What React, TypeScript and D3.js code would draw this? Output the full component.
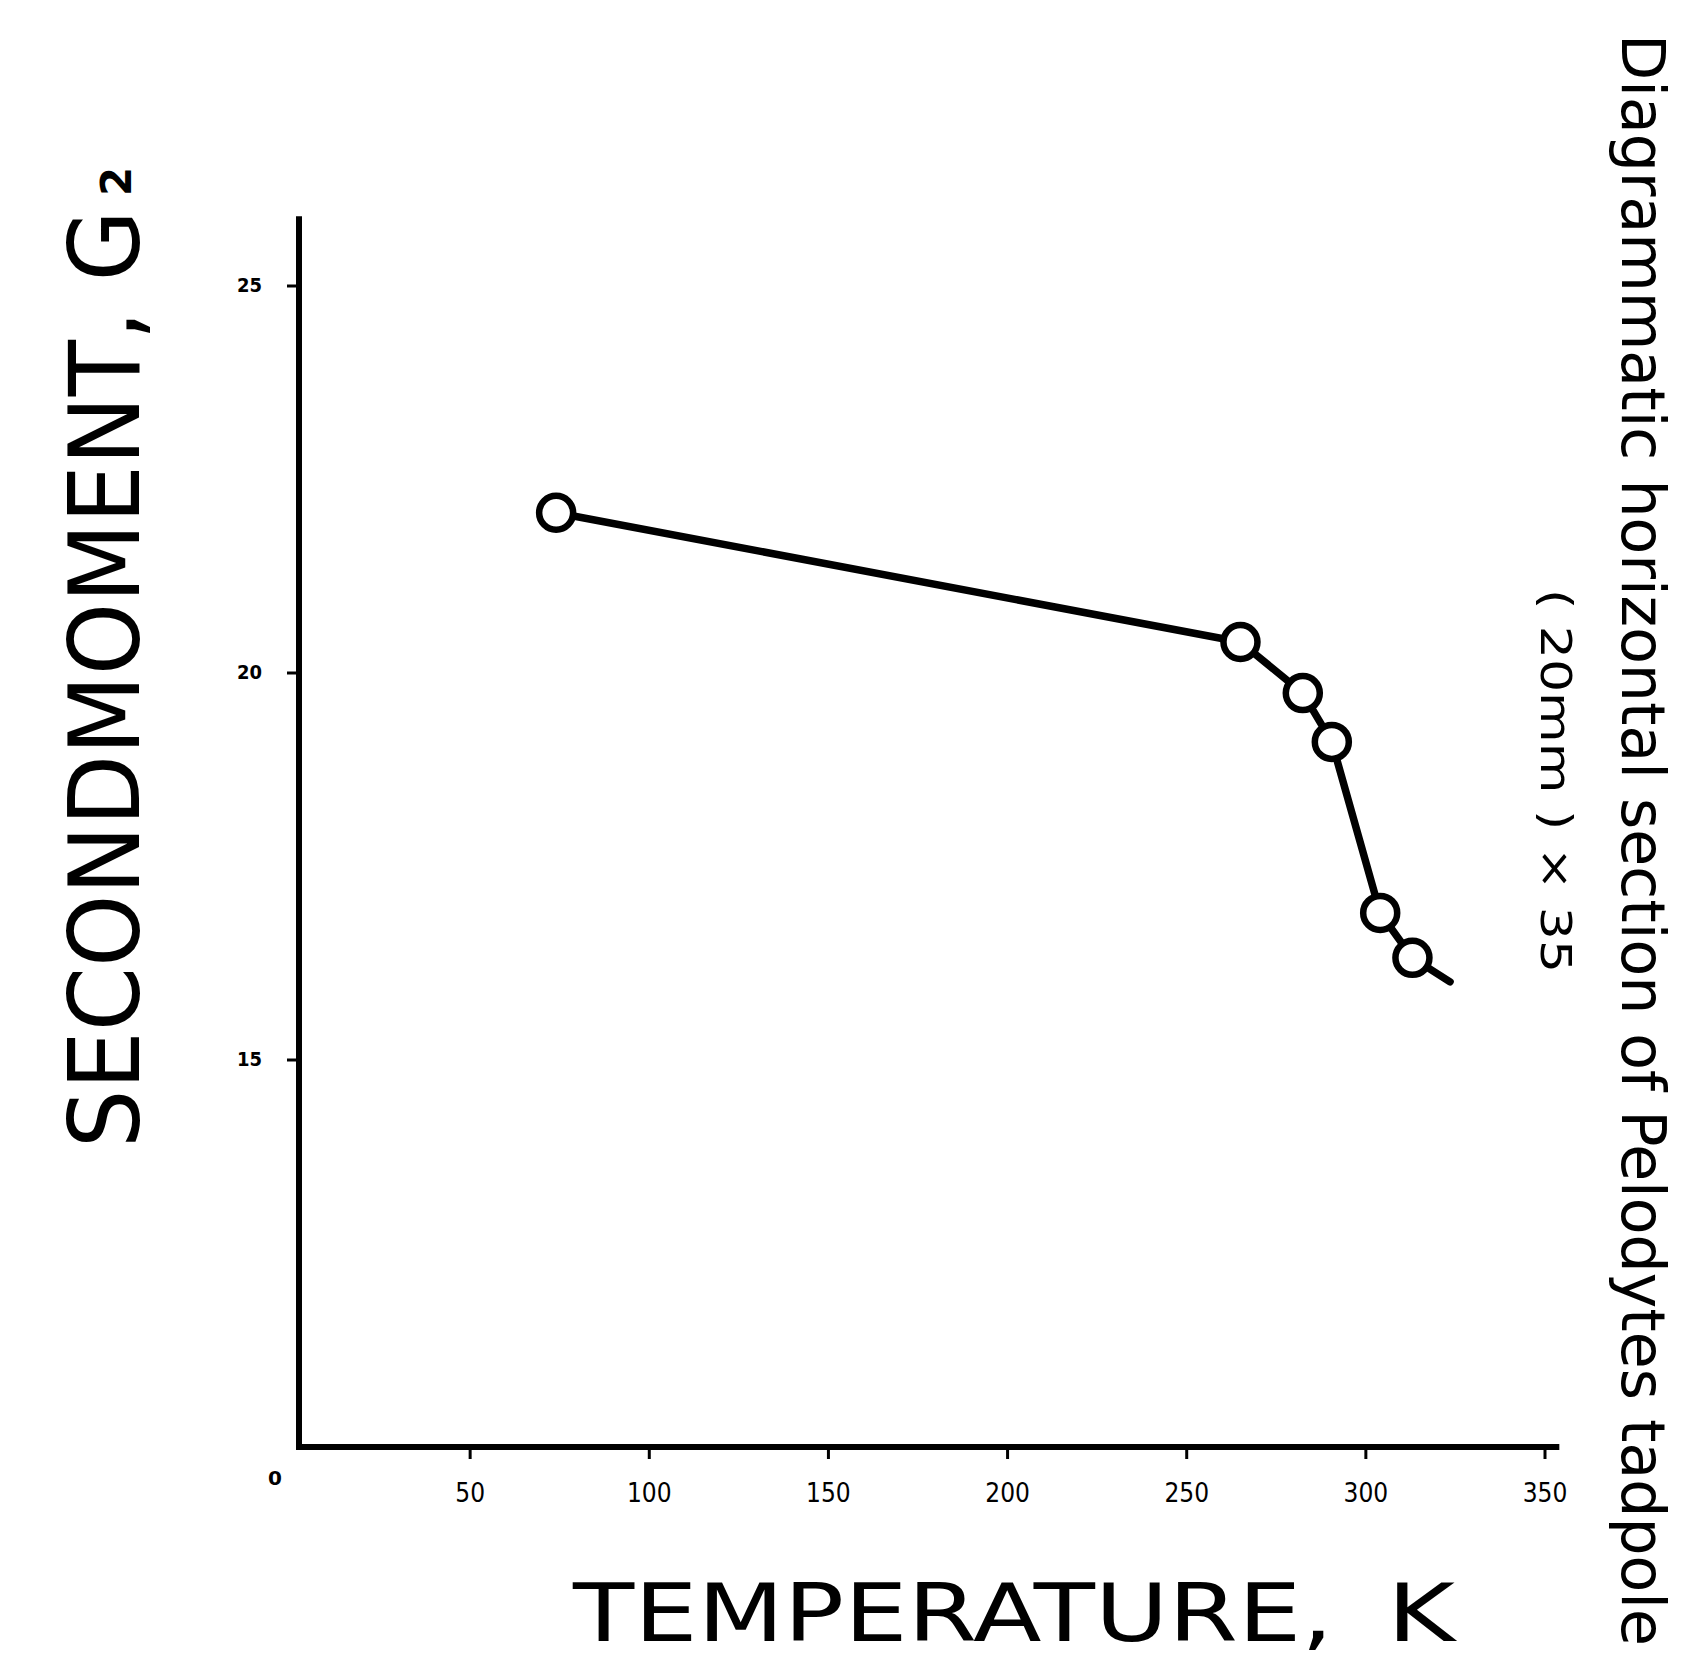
import React from 'react';
import * as d3 from 'd3';

// temperature (K) and second moment (G^2)
const temps = [74, 265, 282.4, 290.5, 304, 313];
const moments = [22.07, 20.4, 19.74, 19.11, 16.9, 16.32];
// the drawn curve runs on a little past the last circle
const lineEnd = { t: 323.5, m: 16.01 };

const xTicks = [50, 100, 150, 200, 250, 300, 350];
const yTicks = [15, 20, 25];
const originLabel = '0';

const W = 1686;
const H = 1662;

export default function App() {
  // y axis has a suppressed zero: the origin sits where 10 would be
  const x = d3.scaleLinear().domain([0, 350]).range([291, 1545]);
  const y = d3.scaleLinear().domain([10, 25]).range([1447, 286]);

  const axisX0 = 299;
  const axisY0 = y(10);
  const yTop = y(25.9);
  const xRight = x(354);

  const pts: [number, number][] = temps.map((t, i) => [x(t), y(moments[i])]);
  const curve = d3.line()([...pts, [x(lineEnd.t), y(lineEnd.m)]]) || '';

  return (
    <svg
      width={W}
      height={H}
      style={{ position: 'absolute', left: 0, top: 0, background: '#fff' }}
      fontFamily="'DejaVu Sans', sans-serif"
    >
      <rect width={W} height={H} fill="#fff" />

      {/* axes */}
      <line x1={axisX0} y1={yTop} x2={axisX0} y2={axisY0 + 3} stroke="#000" strokeWidth={6} />
      <line x1={axisX0 - 3} y1={axisY0} x2={xRight} y2={axisY0} stroke="#000" strokeWidth={6} />

      {yTicks.map((v) => (
        <g key={'y' + v}>
          <line x1={axisX0 - 12} x2={axisX0} y1={y(v)} y2={y(v)} stroke="#000" strokeWidth={3} />
          <text
            x={262}
            y={y(v)}
            textAnchor="end"
            dominantBaseline="middle"
            fontSize={20}
            fontWeight="bold"
            fontFamily="'DejaVu Sans Condensed', 'DejaVu Sans'"
          >
            {v}
          </text>
        </g>
      ))}
      <text x={275} y={1479} textAnchor="middle" dominantBaseline="middle" fontSize={20} fontWeight="bold">
        {originLabel}
      </text>

      {xTicks.map((v) => (
        <g key={'x' + v}>
          <line x1={x(v)} x2={x(v)} y1={axisY0} y2={axisY0 + 12} stroke="#000" strokeWidth={3} />
          <text
            x={x(v)}
            y={1494}
            textAnchor="middle"
            dominantBaseline="middle"
            fontSize={26}
            fontFamily="'DejaVu Sans Condensed', 'DejaVu Sans'"
          >
            {v}
          </text>
        </g>
      ))}

      {/* data */}
      <path d={curve} fill="none" stroke="#000" strokeWidth={7.5} strokeLinejoin="round" strokeLinecap="round" />
      {pts.map(([cx, cy], i) => (
        <circle key={i} cx={cx} cy={cy} r={17} fill="#fff" stroke="#000" strokeWidth={6.5} />
      ))}

      {/* y title */}
      <text
        transform="translate(139,1148) rotate(-90)"
        fontSize={98}
        textLength={938}
        lengthAdjust="spacingAndGlyphs"
      >
        SECONDMOMENT, G
      </text>
      <text transform="translate(131,196) rotate(-90)" fontSize={42} fontWeight="bold">
        2
      </text>

      {/* x title */}
      <text x={573} y={1641} fontSize={80} textLength={760} lengthAdjust="spacingAndGlyphs">
        TEMPERATURE,
      </text>
      <text x={1387} y={1641} fontSize={80} textLength={68} lengthAdjust="spacingAndGlyphs">
        K
      </text>

      {/* side caption */}
      <text
        transform="translate(1622,34) rotate(90)"
        fontSize={60}
        textLength={1612}
        lengthAdjust="spacingAndGlyphs"
        fontFamily="'DejaVu Sans Condensed', 'DejaVu Sans'"
      >
        Diagrammatic horizontal section of Pelodytes tadpole
      </text>
      <text
        transform="translate(1541,589) rotate(90)"
        fontSize={42}
        textLength={384}
        lengthAdjust="spacingAndGlyphs"
        fontFamily="'DejaVu Sans Condensed', 'DejaVu Sans'"
      >
        ( 20mm ) × 35
      </text>
    </svg>
  );
}
